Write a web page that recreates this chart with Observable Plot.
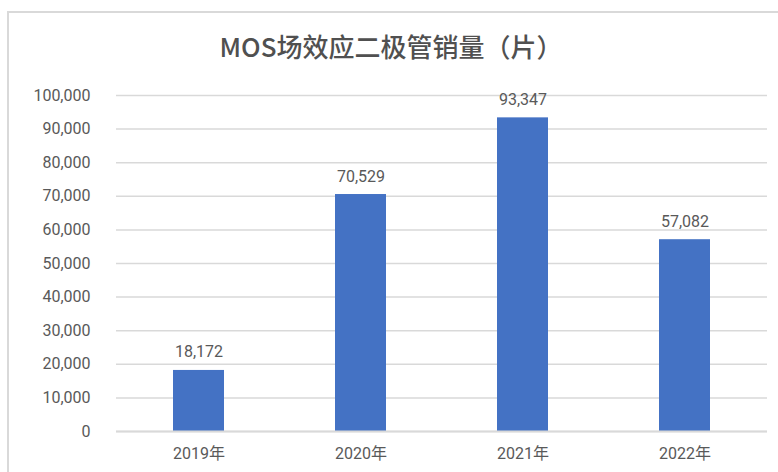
<!DOCTYPE html>
<html>
<head>
<meta charset="utf-8">
<script src="https://cdn.jsdelivr.net/npm/d3@7"></script>
<script src="https://cdn.jsdelivr.net/npm/@observablehq/plot@0.6"></script>
<style>
  html, body { margin: 0; padding: 0; background: #fff; }
  #wrap { position: relative; width: 778px; height: 472px; overflow: hidden; }
  #border { position: absolute; left: 7px; top: 11px; width: 900px; height: 600px;
            border-left: 2px solid #d9d9d9; border-top: 2px solid #d9d9d9; pointer-events: none; }
  svg { background: transparent !important; }
</style>
</head>
<body>
<div id="wrap"><div id="border"></div></div>
<script>
const title = "MOS场效应二极管销量（片）";
const years = ["2019年", "2020年", "2021年", "2022年"];
const sales = [18172, 70529, 93347, 57082];
const yTicks = [0, 10000, 20000, 30000, 40000, 50000, 60000, 70000, 80000, 90000, 100000];

const data = years.map((y, i) => ({year: y, value: sales[i]}));
const fmt = d3.format(",");
const textColor = "#595959";
const font = "Roboto, 'Noto Sans CJK SC', sans-serif";

const chart = Plot.plot({
  width: 778,
  height: 472,
  marginLeft: 116,
  marginRight: 11,
  marginTop: 95,
  marginBottom: 41,
  style: {fontFamily: font, color: textColor, background: "transparent"},
  x: {domain: years, paddingInner: 0.686, paddingOuter: 0.343, label: null},
  y: {domain: [0, 100000], label: null},
  marks: [
    Plot.gridY(yTicks, {stroke: "#d9d9d9", strokeOpacity: 1, strokeWidth: 1.5}),
    Plot.barY(data, {x: "year", y: "value", fill: "#4472c4"}),
    Plot.ruleY([0], {stroke: "#d9d9d9", strokeWidth: 2}),
    Plot.axisY(yTicks, {tickSize: 0, tickPadding: 26, tickFormat: fmt, fontSize: 16, fill: textColor, label: null, letterSpacing: "0.6px"}),
    Plot.axisX({tickSize: 0, tickPadding: 16, fontSize: 16, fill: textColor, label: null}),
    Plot.text(data, {x: "year", y: "value", text: d => fmt(d.value), lineAnchor: "bottom", dy: -13, fontSize: 16, fill: textColor, letterSpacing: "0.6px"}),
    Plot.text([title], {frameAnchor: "top", dx: -51, dy: -47, lineAnchor: "middle", fontSize: 26, fill: "#505050", fontFamily: "'Noto Sans CJK SC', sans-serif", fontWeight: 500, letterSpacing: "3px"})
  ]
});
const wrap = document.getElementById("wrap");
wrap.insertBefore(chart, wrap.firstChild);
</script>
</body>
</html>
